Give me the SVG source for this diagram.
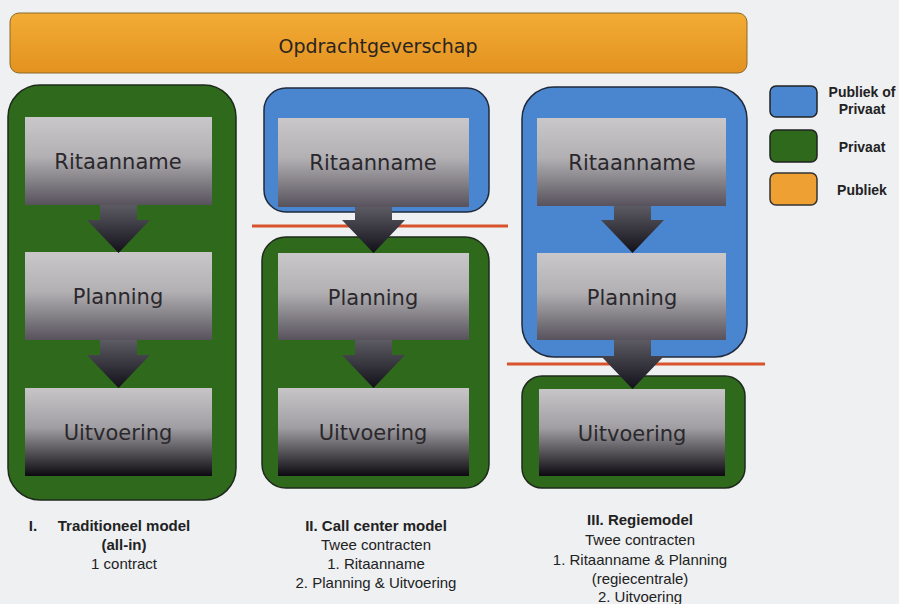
<svg xmlns="http://www.w3.org/2000/svg" width="899" height="604" viewBox="0 0 899 604">
<defs>
<linearGradient id="gOrange" x1="0" y1="0" x2="0" y2="1"><stop offset="0" stop-color="#f2ac35"/><stop offset="1" stop-color="#e3921f"/></linearGradient>
<linearGradient id="gBoxA" x1="0" y1="0" x2="0" y2="1"><stop offset="0" stop-color="#c9c7c9"/><stop offset="0.45" stop-color="#b2b0b3"/><stop offset="1" stop-color="#57525c"/></linearGradient>
<linearGradient id="gBoxC" x1="0" y1="0" x2="0" y2="1"><stop offset="0" stop-color="#c7c5c7"/><stop offset="0.45" stop-color="#a09ea2"/><stop offset="1" stop-color="#0c0a10"/></linearGradient>
<linearGradient id="gArrow" x1="0" y1="0" x2="0" y2="1"><stop offset="0" stop-color="#5c5a62"/><stop offset="1" stop-color="#121018"/></linearGradient>
<style>
.green{fill:#2f6a1c;stroke:#1f2a1c;stroke-width:1.5}
.blue{fill:#4a86cf;stroke:#1f2a3c;stroke-width:1.5}
.boxA{fill:url(#gBoxA)}
.boxC{fill:url(#gBoxC)}
.arr{fill:url(#gArrow)}
.bt{font-family:"DejaVu Sans",sans-serif;font-size:21px;fill:#2a282c;text-anchor:middle}
.red{stroke:#d8532c;stroke-width:3}
.lg{font-family:"Liberation Sans Narrow","Liberation Sans",sans-serif;font-size:14px;font-weight:bold;fill:#222;text-anchor:middle}
.cap{font-family:"Liberation Sans Narrow","Liberation Sans",sans-serif;font-size:15px;fill:#222;text-anchor:middle}
.capb{font-weight:bold}
</style>
</defs>
<rect width="899" height="604" fill="#eef0f2"/>

<g id="top">
<rect x="10" y="13" width="737" height="60" rx="9" fill="url(#gOrange)" stroke="#8a6a2a" stroke-width="1"/>
<text x="378" y="53" font-family="DejaVu Sans,sans-serif" font-size="19" fill="#2a2420" text-anchor="middle">Opdrachtgeverschap</text>
</g>

<g id="containers">
<rect id="c1" class="green" x="8" y="85" width="228" height="415" rx="32"/>
<rect id="c2a" class="blue" x="264" y="88" width="225" height="124" rx="22"/>
<rect id="c2b" class="green" x="262" y="237" width="227" height="251" rx="24"/>
<rect id="c3a" class="blue" x="522" y="87" width="225" height="270" rx="32"/>
<rect id="c3b" class="green" x="522" y="376" width="223" height="112" rx="20"/>
</g>

<g id="separators">
<line class="red" x1="252" y1="226" x2="508" y2="226"/>
<line class="red" x1="507" y1="364" x2="765" y2="364"/>
</g>

<g id="col1">
<g id="n1r"><rect class="boxA" x="25" y="117" width="187" height="88"/><text class="bt" x="118" y="169">Ritaanname</text></g>
<g id="n1p"><rect class="boxA" x="25" y="252" width="187" height="88"/><text class="bt" x="118" y="304">Planning</text></g>
<g id="n1u"><rect class="boxC" x="25" y="388" width="187" height="88"/><text class="bt" x="118" y="440">Uitvoering</text></g>
</g>
<g id="col2">
<g id="n2r"><rect class="boxA" x="278" y="118" width="191" height="89"/><text class="bt" x="373" y="170">Ritaanname</text></g>
<g id="n2p"><rect class="boxA" x="278" y="253" width="191" height="87"/><text class="bt" x="373" y="305">Planning</text></g>
<g id="n2u"><rect class="boxC" x="278" y="388" width="191" height="88"/><text class="bt" x="373" y="440">Uitvoering</text></g>
</g>
<g id="col3">
<g id="n3r"><rect class="boxA" x="537" y="118" width="189" height="88"/><text class="bt" x="632" y="170">Ritaanname</text></g>
<g id="n3p"><rect class="boxA" x="537" y="253" width="189" height="87"/><text class="bt" x="632" y="305">Planning</text></g>
<g id="n3u"><rect class="boxC" x="539" y="389" width="186" height="87"/><text class="bt" x="632" y="441">Uitvoering</text></g>
</g>

<g id="connectors">
<path class="arr" d="M100,205 H137 V220 H150 L118.5,253 L87,220 H100 Z"/>
<path class="arr" d="M100,340 H137 V355 H150 L118.5,388 L87,355 H100 Z"/>
<path class="arr" d="M355,207 H392 V220 H405 L373.5,253 L342,220 H355 Z"/>
<path class="arr" d="M355,340 H392 V355 H405 L373.5,388 L342,355 H355 Z"/>
<path class="arr" d="M614,206 H651 V220 H664 L632.5,253 L601,220 H614 Z"/>
<path class="arr" d="M614,340 H651 V356 H664 L632.5,389 L601,356 H614 Z"/>
</g>

<g id="legend">
<rect x="770" y="86" width="47" height="31" rx="6" fill="#4a86cf" stroke="#222" stroke-width="1.5"/>
<rect x="770" y="130" width="47" height="32" rx="6" fill="#2f6a1c" stroke="#222" stroke-width="1.5"/>
<rect x="770" y="173" width="47" height="32" rx="6" fill="#eea032" stroke="#333" stroke-width="1.5"/>
<text class="lg" x="862" y="97">Publiek of</text>
<text class="lg" x="862" y="114">Privaat</text>
<text class="lg" x="862" y="152">Privaat</text>
<text class="lg" x="862" y="195">Publiek</text>
</g>

<g id="captions">
<text class="cap capb" y="531"><tspan x="33">I.</tspan><tspan x="124">Traditioneel model</tspan></text>
<text class="cap capb" x="124" y="550">(all-in)</text>
<text class="cap" x="124" y="569">1 contract</text>
<text class="cap capb" x="376" y="531">II. Call center model</text>
<text class="cap" x="376" y="550">Twee contracten</text>
<text class="cap" x="376" y="569">1. Ritaanname</text>
<text class="cap" x="376" y="588">2. Planning &amp; Uitvoering</text>
<text class="cap capb" x="640" y="525">III. Regiemodel</text>
<text class="cap" x="640" y="545">Twee contracten</text>
<text class="cap" x="640" y="565">1. Ritaanname &amp; Planning</text>
<text class="cap" x="640" y="584">(regiecentrale)</text>
<text class="cap" x="640" y="602">2. Uitvoering</text>
</g>
</svg>
